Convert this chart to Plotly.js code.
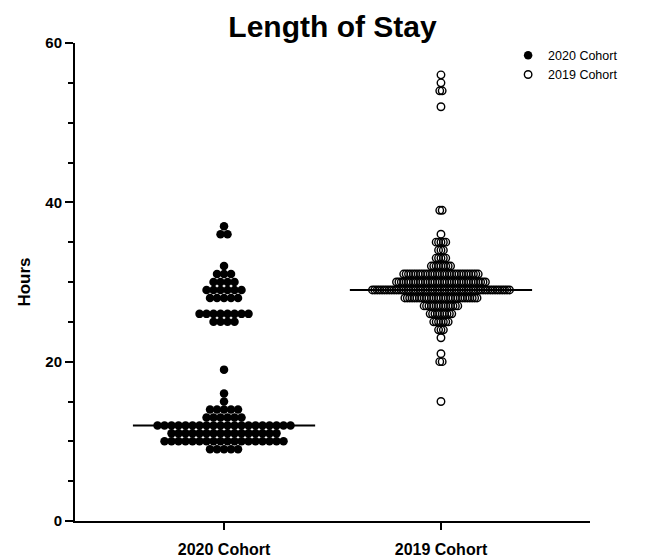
<!DOCTYPE html>
<html><head><meta charset="utf-8">
<script src="https://cdn.plot.ly/plotly-3.0.1.min.js"></script>
<style>html,body{margin:0;padding:0;background:#fff}</style>
</head><body><div id="chart" style="width:659px;height:557px"></div>
<script>
// ---- data ----
const categories = ['2020 Cohort', '2019 Cohort'];
// length of stay (hours) and number of patients at each value
const hours2020  = [9, 10, 11, 12, 13, 14, 15, 16, 19, 25, 26, 28, 29, 30, 31, 32, 36, 37];
const counts2020 = [5, 18, 16, 20, 6, 5, 1, 1, 1, 4, 8, 5, 6, 4, 3, 1, 2, 1];
const hours2019  = [15, 20, 21, 23, 24, 25, 26, 27, 28, 29, 30, 31, 32, 33, 34, 35, 36, 39, 52, 54, 55, 56];
const counts2019 = [1, 2, 1, 1, 3, 7, 10, 15, 31, 58, 38, 32, 9, 5, 3, 5, 1, 2, 1, 2, 1, 1];
const yTickVals = [0, 20, 40, 60];

// ---- helpers ----
function expand(h, c) { return h.flatMap((v, i) => Array(c[i]).fill(v)); }
function median(a) { const s = [...a].sort((p, q) => p - q); const m = Math.floor(s.length / 2); return s.length % 2 ? s[m] : (s[m - 1] + s[m]) / 2; }

const PLOT_W = 515, XMIN = 0.313, XMAX = 2.687;
const pxPerUnit = PLOT_W / (XMAX - XMIN);
// bee-swarm layout: points sharing a value are spread side by side, compressed to fit the column
function swarm(values, center, markerPx, maxRowPx) {
  const groups = {};
  values.forEach(v => { (groups[v] = groups[v] || []).push(v); });
  const nmax = Math.max(...Object.values(groups).map(g => g.length));
  const step = Math.min(markerPx, maxRowPx / Math.max(1, nmax - 1));
  const xs = [], ys = [];
  Object.keys(groups).forEach(k => {
    const g = groups[k];
    g.forEach((v, i) => { xs.push(center + (i - (g.length - 1) / 2) * step / pxPerUnit); ys.push(v); });
  });
  return { x: xs, y: ys };
}

const vals2020 = expand(hours2020, counts2020);
const vals2019 = expand(hours2019, counts2019);
const s2020 = swarm(vals2020, 1, 7, 137);
const s2019 = swarm(vals2019, 2, 7, 137);
const med2020 = median(vals2020), med2019 = median(vals2019);
const halfLine = 0.42;

const font = 'Liberation Sans, Arial, Helvetica, sans-serif';
const traces = [
  { type: 'scatter', mode: 'markers', name: '2020 Cohort', x: s2020.x, y: s2020.y,
    marker: { symbol: 'circle', size: 8.5, color: '#000', line: { width: 0 } }, hoverinfo: 'y' },
  { type: 'scatter', mode: 'markers', name: '2019 Cohort', x: s2019.x, y: s2019.y,
    marker: { symbol: 'circle-open', size: 7.5, color: '#000', line: { width: 1.4, color: '#000' } }, hoverinfo: 'y' },
  { type: 'scatter', mode: 'lines', showlegend: false, x: [1 - halfLine, 1 + halfLine], y: [med2020, med2020],
    line: { color: '#000', width: 2 }, hoverinfo: 'skip' },
  { type: 'scatter', mode: 'lines', showlegend: false, x: [2 - halfLine, 2 + halfLine], y: [med2019, med2019],
    line: { color: '#000', width: 2 }, hoverinfo: 'skip' }
];

const layout = {
  width: 659, height: 557,
  margin: { l: 75, r: 69, t: 43, b: 36 },
  paper_bgcolor: '#fff', plot_bgcolor: '#fff',
  font: { family: font, color: '#000' },
  title: { text: 'Length of Stay', font: { family: font, size: 30, weight: 'bold', color: '#000' },
           xref: 'paper', x: 0.5, xanchor: 'center', yref: 'container', y: 0.952, yanchor: 'middle' },
  xaxis: {
    range: [XMIN, XMAX], tickmode: 'array', tickvals: [1, 2], ticktext: categories.map(c => '<b>' + c + '</b>'),
    ticks: 'outside', ticklen: 7, tickwidth: 2, tickcolor: '#000', ticklabelstandoff: 6,
    showline: true, linewidth: 2, linecolor: '#000', showgrid: false, zeroline: false,
    tickfont: { family: font, size: 16, weight: 'bold', color: '#000' }, fixedrange: true
  },
  yaxis: {
    range: [0, 60], tickmode: 'array', tickvals: yTickVals, ticktext: yTickVals.map(v => '<b>' + v + '</b>'),
    ticks: 'outside', ticklen: 8, tickwidth: 2, tickcolor: '#000',
    minor: { tickmode: 'linear', tick0: 0, dtick: 5, ticks: 'outside', ticklen: 5, tickwidth: 2, tickcolor: '#000', showgrid: false },
    showline: true, linewidth: 2, linecolor: '#000', showgrid: false, zeroline: false,
    tickfont: { family: font, size: 15, weight: 'bold', color: '#000' },
    title: { text: 'Hours', font: { family: font, size: 17, weight: 'bold', color: '#000' }, standoff: 10 },
    fixedrange: true
  },
  showlegend: true,
  legend: { x: 0.841, xanchor: 'left', y: 1.005, yanchor: 'top', bgcolor: 'rgba(0,0,0,0)',
            font: { family: font, size: 12.5, color: '#000' }, tracegroupgap: 0 }
};

Plotly.newPlot('chart', traces, layout, { displayModeBar: false, staticPlot: true });
</script>
</body></html>
